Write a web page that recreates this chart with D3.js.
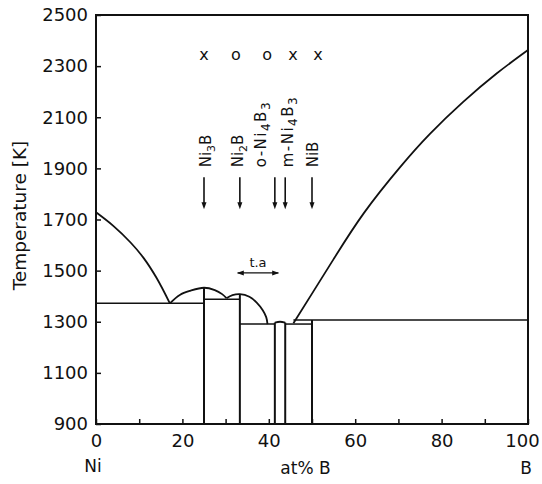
<!DOCTYPE html>
<html>
<head>
<meta charset="utf-8">
<script src="https://cdn.jsdelivr.net/npm/d3@7"></script>
<style>
  body { margin: 0; background: #fff; }
  text { font-family: "DejaVu Sans", sans-serif; fill: #111; }
</style>
</head>
<body>
<svg id="svg1"></svg>
<script>
// Ni-B phase diagram (at% B, K)
var leftLiquidus  = [[0,1728],[4,1675],[8,1610],[11,1550],[14,1472],[17.1,1372]];
var ni3bDome      = [[17.1,1372],[19.4,1405],[21.8,1421],[25,1433],[27.5,1424],[29.2,1408],[30.2,1392]];
var ni2bDome      = [[30.2,1392],[31.6,1404],[33.3,1408],[35.5,1398],[37.2,1375],[38.6,1345],[39.4,1318],[39.7,1291]];
var ni4b3Hump     = [[41.4,1297],[42.6,1300],[43.8,1297]];
var rightLiquidus = [[45.7,1294],[50,1410],[55,1545],[62,1725],[70.4,1905],[77.3,2035],[85,2160],[92.8,2272],[100,2363]];

// horizontal invariant lines: from, to, temperature
var isoFrom = [0, 25, 33.3, 43.8, 45.7];
var isoTo   = [25, 33.3, 41.4, 50, 100];
var isoT    = [1372, 1388, 1291, 1291, 1307];

// compounds
var compoundX    = [25, 33.3, 41.4, 43.8, 50];
var compoundTop  = [1433, 1408, 1297, 1297, 1307];
var labelX       = [25.4, 32.8, 38.0, 44.4, 50.2];
var compoundName = [
  [["Ni",0],["3",1],["B",0]],
  [["Ni",0],["2",1],["B",0]],
  [["o-Ni",0],["4",1],["B",0],["3",1]],
  [["m-Ni",0],["4",1],["B",0],["3",1]],
  [["NiB",0]]
];

// symbols row above
var symbolX    = [25, 32.4, 39.6, 45.6, 51.4];
var symbolText = ["x", "o", "o", "x", "x"];

var xTicks = [0,10,20,30,40,50,60,70,80,90,100];
var yTicks = [900,1100,1300,1500,1700,1900,2100,2300,2500];

var margin = {top: 15, right: 14, bottom: 60, left: 96},
    width = 542 - margin.left - margin.right,
    height = 484 - margin.top - margin.bottom;

var svg = d3.select("#svg1")
  .attr("width", 542)
  .attr("height", 484)
  .append("g")
  .attr("transform", "translate(" + margin.left + "," + margin.top + ")");

var x = d3.scaleLinear().domain([0, 100]).range([0, width]);
var y = d3.scaleLinear().domain([900, 2500]).range([height, 0]);

// axes (ticks pointing inward)
var xAxis = svg.append("g")
  .attr("transform", "translate(0," + height + ")")
  .call(d3.axisBottom(x).tickValues(xTicks).tickSize(-5).tickPadding(10)
    .tickFormat(function (d) { return d % 20 == 0 ? d : ""; }));
var yAxis = svg.append("g")
  .call(d3.axisLeft(y).tickValues(yTicks).tickSize(-5).tickPadding(8)
    .tickFormat(function (d) { return d; }));

[xAxis, yAxis].forEach(function (a) {
  a.select(".domain").remove();
  a.selectAll(".tick line").attr("stroke", "#111").attr("stroke-width", 1.5);
  a.selectAll(".tick text")
    .style("font-family", "DejaVu Sans, sans-serif")
    .style("font-size", "18px")
    .attr("fill", "#111");
});
// keep "100" inside the window
xAxis.selectAll(".tick text").filter(function (d) { return d == 100; }).attr("dx", -6);

svg.append("rect")
  .attr("width", width).attr("height", height)
  .attr("fill", "none").attr("stroke", "#111").attr("stroke-width", 2);

var line = d3.line()
  .x(function (d) { return x(d[0]); })
  .y(function (d) { return y(d[1]); })
  .curve(d3.curveCatmullRom.alpha(0.5));
var smooth = d3.line()
  .x(function (d) { return x(d[0]); })
  .y(function (d) { return y(d[1]); })
  .curve(d3.curveNatural);

[leftLiquidus, ni3bDome, ni2bDome, ni4b3Hump].forEach(function (c) {
  svg.append("path")
    .attr("d", line(c))
    .attr("fill", "none")
    .attr("stroke", "#111")
    .attr("stroke-width", 1.8);
});
svg.append("path")
  .attr("d", smooth(rightLiquidus))
  .attr("fill", "none")
  .attr("stroke", "#111")
  .attr("stroke-width", 1.8);

// invariant lines
svg.append("g").selectAll("line")
  .data(isoT)
  .enter()
  .append("line")
    .attr("x1", function (d, i) { return x(isoFrom[i]); })
    .attr("x2", function (d, i) { return x(isoTo[i]); })
    .attr("y1", function (d) { return y(d); })
    .attr("y2", function (d) { return y(d); })
    .attr("stroke", "#111")
    .attr("stroke-width", 1.5);

// compound verticals
svg.append("g").selectAll("line")
  .data(compoundX)
  .enter()
  .append("line")
    .attr("x1", function (d) { return x(d); })
    .attr("x2", function (d) { return x(d); })
    .attr("y1", height)
    .attr("y2", function (d, i) { return y(compoundTop[i]); })
    .attr("stroke", "#111")
    .attr("stroke-width", 2);

// arrows + labels
var arrowTop = 1865, arrowBottom = 1740;
compoundX.forEach(function (cx, i) {
  var px = x(cx);
  svg.append("line")
    .attr("x1", px).attr("x2", px)
    .attr("y1", y(arrowTop)).attr("y2", y(arrowBottom) - 5)
    .attr("stroke", "#111").attr("stroke-width", 1.6);
  svg.append("path")
    .attr("d", "M" + (px - 2.5) + "," + (y(arrowBottom) - 7) +
               "L" + (px + 2.5) + "," + (y(arrowBottom) - 7) +
               "L" + px + "," + y(arrowBottom) + "Z")
    .attr("fill", "#111");

  var long = compoundName[i].length > 3;
  var t = svg.append("text")
    .attr("transform", "translate(" + x(labelX[i]) + "," + (y(arrowTop) - 10) + ") rotate(-90)")
    .attr("dy", "0.36em")
    .style("letter-spacing", long ? "1.5px" : "0px")
    .style("font-size", "15px");
  compoundName[i].forEach(function (p) {
    var s = t.append("tspan").text(p[0]);
    if (p[1]) s.attr("baseline-shift", "-35%").style("font-size", long ? "12px" : "11px");
  });
});

// x / o symbols
svg.append("g").selectAll("text")
  .data(symbolText)
  .enter()
  .append("text")
    .attr("x", function (d, i) { return x(symbolX[i]); })
    .attr("y", y(2324))
    .attr("text-anchor", "middle")
    .style("font-size", "16px")
    .text(function (d) { return d; });

// t.a with double arrow
var taY = y(1491);
svg.append("text")
  .attr("x", x(37.5)).attr("y", taY - 6)
  .attr("text-anchor", "middle")
  .style("font-size", "13px")
  .text("t.a");
svg.append("line")
  .attr("x1", x(32.8)).attr("x2", x(42.2))
  .attr("y1", taY).attr("y2", taY)
  .attr("stroke", "#111").attr("stroke-width", 1.2);
[[32.6, 1], [42.4, -1]].forEach(function (a) {
  var px = x(a[0]);
  svg.append("path")
    .attr("d", "M" + px + "," + taY + "L" + (px + 7 * a[1]) + "," + (taY - 2.5) +
               "L" + (px + 7 * a[1]) + "," + (taY + 2.5) + "Z")
    .attr("fill", "#111");
});

// axis titles
svg.append("text")
  .attr("x", x(0) - 3).attr("y", height + 48)
  .attr("text-anchor", "middle")
  .style("font-size", "17px")
  .text("Ni");
svg.append("text")
  .attr("x", x(48.5)).attr("y", height + 50)
  .attr("text-anchor", "middle")
  .style("font-size", "17px")
  .text("at% B");
svg.append("text")
  .attr("x", x(100) - 2).attr("y", height + 50)
  .attr("text-anchor", "middle")
  .style("font-size", "17px")
  .text("B");

svg.append("text")
  .attr("transform", "translate(" + (-77) + "," + (y(1700) - 4) + ") rotate(-90)")
  .attr("dy", "0.36em")
  .attr("text-anchor", "middle")
  .style("font-size", "18.5px")
  .text("Temperature [K]");
</script>
</body>
</html>
